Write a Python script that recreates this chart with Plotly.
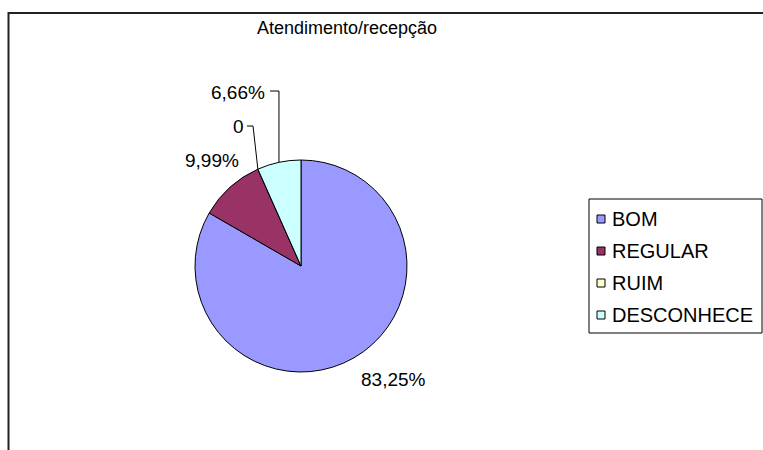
import math
import plotly.graph_objects as go

# Survey results: reception / front-desk service rating
labels = ["BOM", "REGULAR", "RUIM", "DESCONHECE"]
values = [83.25, 9.99, 0, 6.66]
value_text = ["83,25%", "9,99%", "0", "6,66%"]
colors = ["#9999FF", "#993366", "#FFFFCC", "#CCFFFF"]

W, H = 763, 450
FONT = "Liberation Sans, Arial, sans-serif"
# pie geometry in pixels
CX, CY, R = 301, 266, 106

def px(x):
    return x / W

def py(y):
    return 1 - y / H

fig = go.Figure(go.Pie(
    labels=labels,
    values=values,
    marker=dict(colors=colors, line=dict(color="black", width=1)),
    sort=False,
    direction="clockwise",
    rotation=0,
    textinfo="none",
    hoverinfo="label+percent",
    domain=dict(x=[px(CX - R), px(CX + R)], y=[py(CY + R), py(CY - R)]),
    showlegend=False,
))

# mid angle of each slice (degrees clockwise from 12 o'clock)
total = sum(values)
mid_angles = []
acc = 0.0
for v in values:
    mid_angles.append((acc + v / 2) / total * 360)
    acc += v

def edge_point(angle_deg):
    a = math.radians(angle_deg)
    return CX + R * math.sin(a), CY - R * math.cos(a)

# label placement: text position, anchor, leader elbow (start x, y, knee x)
label_layout = {
    "BOM": dict(x=393, y=379, anchor="center", elbow=None),
    "REGULAR": dict(x=212, y=160, anchor="center", elbow=None),
    "RUIM": dict(x=246, y=127, anchor="right", elbow=(247, 126, 253)),
    "DESCONHECE": dict(x=267, y=92, anchor="right", elbow=(270, 91, None)),
}

shapes = []
annotations = []
for lab, txt, ang in zip(labels, value_text, mid_angles):
    cfg = label_layout[lab]
    annotations.append(dict(
        x=px(cfg["x"]), y=py(cfg["y"]), xref="paper", yref="paper",
        text=txt, showarrow=False, xanchor=cfg["anchor"], yanchor="middle",
        font=dict(family=FONT, size=19, color="black"),
    ))
    if cfg["elbow"] is not None:
        ex, ey = edge_point(ang)
        x0, y0, xk = cfg["elbow"]
        if xk is None:
            xk = ex
        path = f"M {px(x0)} {py(y0)} L {px(xk)} {py(y0)} L {px(ex)} {py(ey)}"
        shapes.append(dict(type="path", path=path, xref="paper", yref="paper",
                           line=dict(color="black", width=1)))

# chart area frame
shapes.append(dict(type="rect", xref="paper", yref="paper",
                   x0=px(8.5), y0=-0.1, x1=1.1, y1=py(13),
                   line=dict(color="#222222", width=2), fillcolor="rgba(0,0,0,0)",
                   layer="below"))

# legend box with colour keys
LEG_X0, LEG_X1, LEG_Y0, LEG_Y1 = 589, 762, 199, 333
ROW0, ROW_STEP, KEY = 219, 32, 8
shapes.append(dict(type="rect", xref="paper", yref="paper",
                   x0=px(LEG_X0), x1=px(LEG_X1), y0=py(LEG_Y1), y1=py(LEG_Y0),
                   line=dict(color="black", width=1), fillcolor="white", layer="below"))
for i, (lab, col) in enumerate(zip(labels, colors)):
    yc = ROW0 + i * ROW_STEP
    shapes.append(dict(type="rect", xref="paper", yref="paper",
                       x0=px(597), x1=px(597 + KEY),
                       y0=py(yc + KEY / 2), y1=py(yc - KEY / 2),
                       line=dict(color="black", width=1), fillcolor=col))
    annotations.append(dict(
        x=px(610), y=py(yc), xref="paper", yref="paper",
        text=lab, showarrow=False, xanchor="left", yanchor="middle",
        font=dict(family=FONT, size=20, color="black"),
    ))

annotations.append(dict(
    x=px(347), y=py(28), xref="paper", yref="paper",
    text="Atendimento/recepção", showarrow=False,
    xanchor="center", yanchor="middle",
    font=dict(family=FONT, size=18, color="black"),
))

fig.update_layout(
    width=W, height=H,
    margin=dict(l=0, r=0, t=0, b=0),
    paper_bgcolor="white",
    plot_bgcolor="white",
    shapes=shapes,
    annotations=annotations,
)

fig.write_html("out.html")
